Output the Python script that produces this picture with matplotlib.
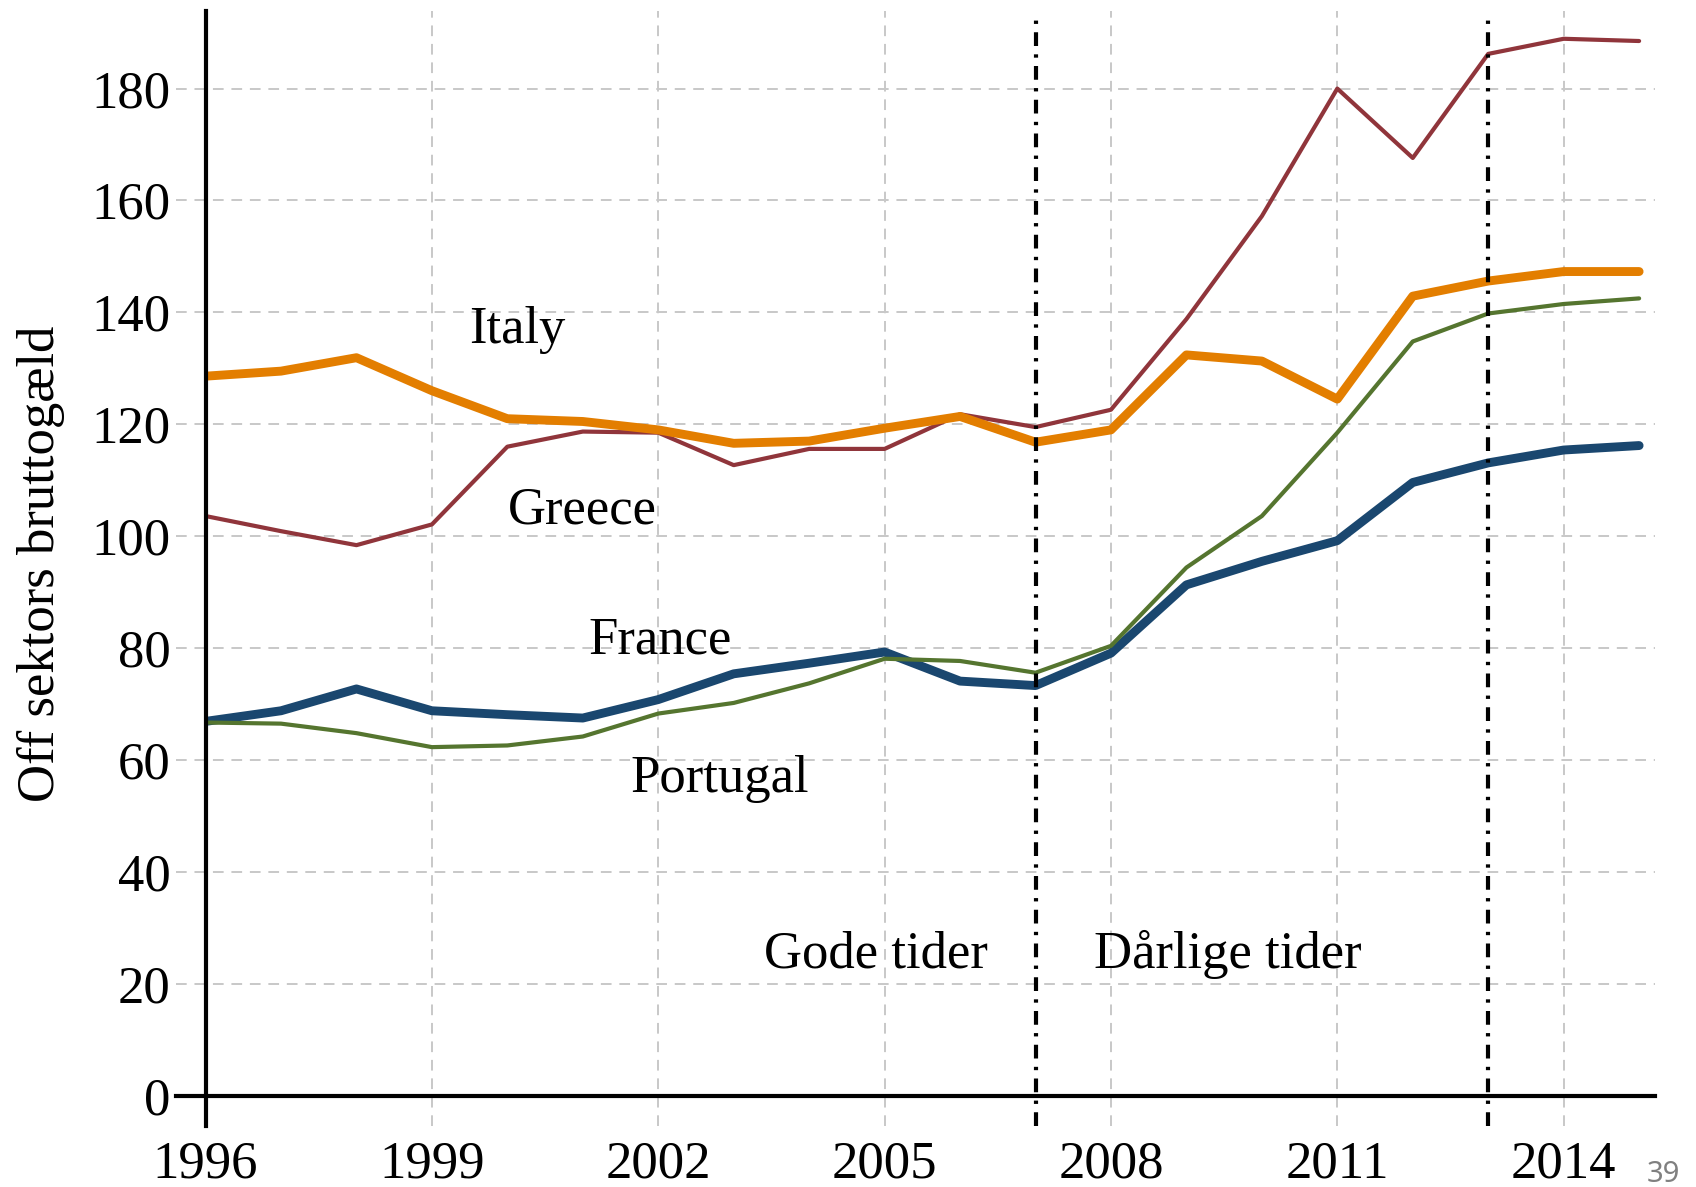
import numpy as np
import matplotlib
matplotlib.use("Agg")
import matplotlib.pyplot as plt

years = np.arange(1996, 2016)

italy = [128.6, 129.5, 131.9, 126.0, 121.0, 120.5, 119.0, 116.6, 117.0, 119.3,
         121.4, 116.8, 119.0, 132.4, 131.3, 124.5, 142.9, 145.6, 147.3, 147.3]
greece = [103.6, 100.9, 98.4, 102.1, 116.0, 118.7, 118.5, 112.7, 115.6, 115.6,
          121.8, 119.5, 122.6, 138.8, 157.2, 180.0, 167.6, 186.2, 188.9, 188.5]
france = [66.9, 68.8, 72.7, 68.8, 68.1, 67.5, 70.8, 75.4, 77.3, 79.3,
          74.1, 73.3, 79.1, 91.3, 95.5, 99.2, 109.6, 113.1, 115.4, 116.2]
portugal = [66.7, 66.5, 64.8, 62.3, 62.6, 64.2, 68.3, 70.2, 73.7, 78.1,
            77.7, 75.6, 80.4, 94.4, 103.6, 118.5, 134.8, 139.8, 141.5, 142.5]

xticks = [1996, 1999, 2002, 2005, 2008, 2011, 2014]
yticks = [0, 20, 40, 60, 80, 100, 120, 140, 160, 180]
periods = [2007, 2013]

# label name, x, y
labels = [("Italy", 2000.13, 136.9), ("Greece", 2000.99, 104.6),
          ("France", 2002.02, 81.4), ("Portugal", 2002.81, 56.6),
          ("Gode tider", 2004.89, 25.3), ("Dårlige tider", 2009.55, 25.3)]

plt.rcParams['font.family'] = ['Liberation Serif', 'DejaVu Serif']

fig = plt.figure(figsize=(16.96, 11.87), dpi=100)
ax = fig.add_axes([0.1212, 0.0769, 0.8546, 0.914])

ext_y = 0.0277
ext_x = 0.0207
grid_kw = dict(color='#c8c8c8', lw=1.4, linestyle=(0, (5.5, 4)), clip_on=False, zorder=1)
for x in xticks:
    ax.axvline(x, ymin=-ext_y, ymax=1, **grid_kw)
for y in yticks[1:]:
    ax.axhline(y, xmin=-ext_x, xmax=1, **grid_kw)

line_kw = dict(solid_capstyle='round', solid_joinstyle='round', zorder=3)
ax.plot(years, france, color='#1a476f', lw=6.4, **line_kw)
ax.plot(years, greece, color='#90353b', lw=3.0, **line_kw)
ax.plot(years, italy, color='#e37e00', lw=6.4, **line_kw)
ax.plot(years, portugal, color='#55752f', lw=3.0, **line_kw)

for p in periods:
    ax.axvline(p, ymin=-ext_y, ymax=0.993, color='black', lw=3.0,
               linestyle=(0, (3.3, 2.0, 0.8, 2.0)), clip_on=False, zorder=4)

# axis lines, Stata style, running a little past the origin
ax.axvline(1996, ymin=-ext_y, ymax=1, color='black', lw=3, clip_on=False, zorder=5)
ax.axhline(0, xmin=-ext_x, xmax=1, color='black', lw=3, clip_on=False, zorder=5)

for name, x, y in labels:
    ax.text(x, y, name, fontsize=38, ha='center', va='center', zorder=6)

ax.set_xlim(1996, 2015.21)
ax.set_ylim(0, 193.9)
for s in ax.spines.values():
    s.set_visible(False)
ax.set_xticks(xticks)
ax.set_yticks(yticks)
ax.tick_params(axis='x', length=0, pad=32, labelsize=38)
ax.tick_params(axis='y', length=0, pad=25, labelsize=38)
ax.set_ylabel("Off sektors bruttogæld", fontsize=38)
ax.yaxis.set_label_coords(-0.097, 0.49)

fig.text(0.9905, 0.004, "39", fontsize=21, color='#808080', family='Noto Sans',
         ha='right', va='baseline')

fig.savefig("out.png", dpi=100)
